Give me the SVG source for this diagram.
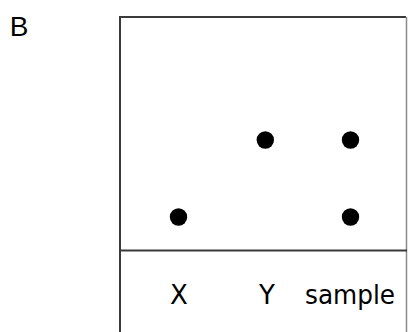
<svg xmlns="http://www.w3.org/2000/svg" width="409" height="332" viewBox="0 0 409 332">
<style>
.frame{stroke:#3a3a3a;stroke-width:2;fill:none}
.edge{stroke:#8a8a8a;stroke-width:1.5;fill:none}
.dot{fill:#000}
.lbl{font-family:"DejaVu Sans",sans-serif;font-size:26px;fill:#000;text-anchor:middle}
</style>
<rect width="409" height="332" fill="#fff"/>
<text x="19" y="36" font-family="'Liberation Sans',sans-serif" font-size="28" fill="#000" text-anchor="middle">B</text>
<g id="plate">
<path class="frame" d="M120,333 V17 H406"/>
<path class="edge" d="M406.5,17 V333"/>
<path class="frame" d="M120,250.5 H407"/>
</g>
<g id="spots">
<circle class="dot" cx="178.5" cy="217" r="8.7"/>
<circle class="dot" cx="265.3" cy="140" r="8.7"/>
<circle class="dot" cx="350.5" cy="140" r="8.7"/>
<circle class="dot" cx="350.5" cy="217" r="8.7"/>
</g>
<g id="labels">
<text class="lbl" x="179" y="304">X</text>
<text class="lbl" x="267" y="304">Y</text>
<text class="lbl" x="350" y="304" textLength="90" lengthAdjust="spacingAndGlyphs">sample</text>
</g>
<g id="connectors"/>
</svg>
